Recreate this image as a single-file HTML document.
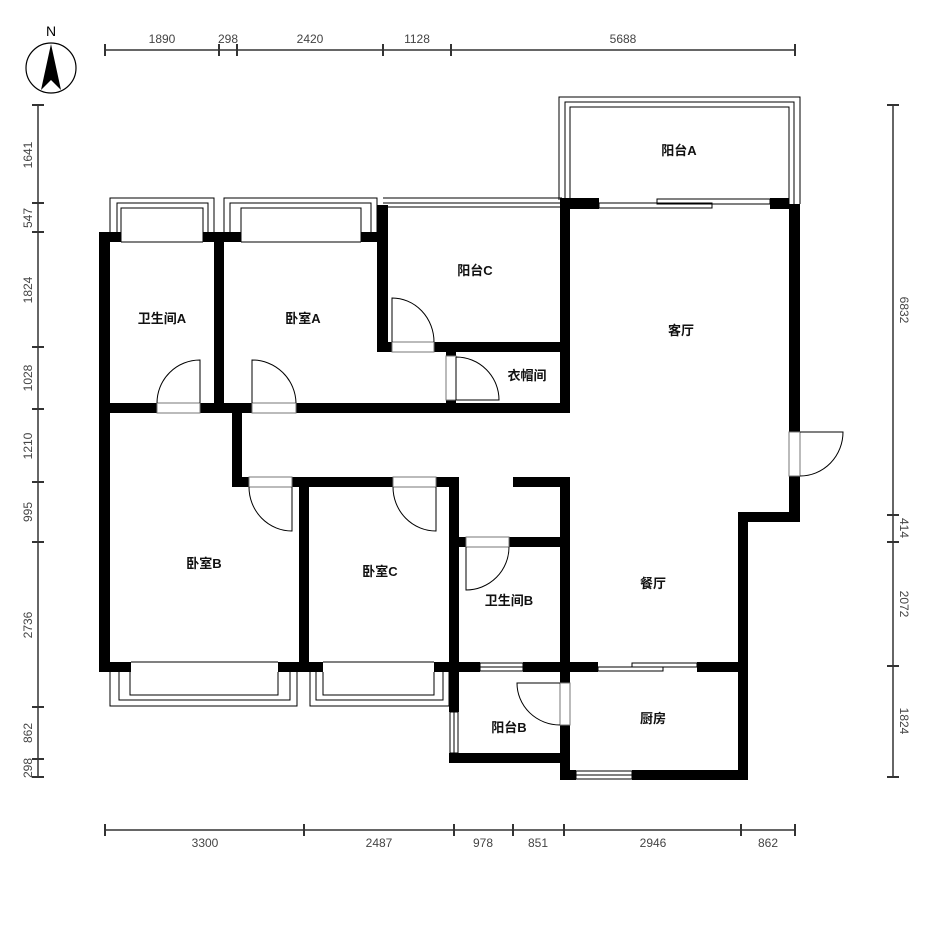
<!DOCTYPE html>
<html><head><meta charset="utf-8"><style>
html,body{margin:0;padding:0;background:#fff;}
svg{display:block;}
.d{font-family:"Liberation Sans",sans-serif;font-size:12px;fill:#444;}
.l{font-family:"Liberation Sans","Noto Sans CJK SC",sans-serif;font-size:13px;font-weight:bold;fill:#111;}
</style></head><body>
<svg width="943" height="932" viewBox="0 0 943 932" xmlns="http://www.w3.org/2000/svg">
<!-- compass -->
<circle cx="51" cy="68" r="25" fill="none" stroke="#000" stroke-width="1.2"/>
<polygon points="51,44 41,90 51,80 61,90" fill="#000"/>
<text x="51" y="36" text-anchor="middle" style="font-family:'Liberation Sans',sans-serif;font-size:14px">N</text>

<!-- dimension lines -->
<g stroke="#666" stroke-width="2" fill="none">
<line x1="105" y1="50" x2="795" y2="50"/>
<line x1="38" y1="105" x2="38" y2="777"/>
<line x1="893" y1="105" x2="893" y2="777"/>
<line x1="105" y1="830" x2="795" y2="830"/>
</g>
<g stroke="#333" stroke-width="2">
<line x1="105" y1="44" x2="105" y2="56"/><line x1="219" y1="44" x2="219" y2="56"/><line x1="237" y1="44" x2="237" y2="56"/><line x1="383" y1="44" x2="383" y2="56"/><line x1="451" y1="44" x2="451" y2="56"/><line x1="795" y1="44" x2="795" y2="56"/>
<line x1="32" y1="105" x2="44" y2="105"/><line x1="32" y1="203" x2="44" y2="203"/><line x1="32" y1="232" x2="44" y2="232"/><line x1="32" y1="347" x2="44" y2="347"/><line x1="32" y1="409" x2="44" y2="409"/><line x1="32" y1="482" x2="44" y2="482"/><line x1="32" y1="542" x2="44" y2="542"/><line x1="32" y1="707" x2="44" y2="707"/><line x1="32" y1="759" x2="44" y2="759"/><line x1="32" y1="777" x2="44" y2="777"/>
<line x1="887" y1="105" x2="899" y2="105"/><line x1="887" y1="515" x2="899" y2="515"/><line x1="887" y1="542" x2="899" y2="542"/><line x1="887" y1="666" x2="899" y2="666"/><line x1="887" y1="777" x2="899" y2="777"/>
<line x1="105" y1="824" x2="105" y2="836"/><line x1="304" y1="824" x2="304" y2="836"/><line x1="454" y1="824" x2="454" y2="836"/><line x1="513" y1="824" x2="513" y2="836"/><line x1="564" y1="824" x2="564" y2="836"/><line x1="741" y1="824" x2="741" y2="836"/><line x1="795" y1="824" x2="795" y2="836"/>
</g>
<g class="d" text-anchor="middle">
<text x="162" y="43">1890</text><text x="228" y="43">298</text><text x="310" y="43">2420</text><text x="417" y="43">1128</text><text x="623" y="43">5688</text>
<text x="205" y="847">3300</text><text x="379" y="847">2487</text><text x="483" y="847">978</text><text x="538" y="847">851</text><text x="653" y="847">2946</text><text x="768" y="847">862</text>
<text transform="translate(32,155) rotate(-90)">1641</text>
<text transform="translate(32,218) rotate(-90)">547</text>
<text transform="translate(32,290) rotate(-90)">1824</text>
<text transform="translate(32,378) rotate(-90)">1028</text>
<text transform="translate(32,446) rotate(-90)">1210</text>
<text transform="translate(32,512) rotate(-90)">995</text>
<text transform="translate(32,625) rotate(-90)">2736</text>
<text transform="translate(32,733) rotate(-90)">862</text>
<text transform="translate(32,768) rotate(-90)">298</text>
<text transform="translate(900,310) rotate(90)">6832</text>
<text transform="translate(900,528) rotate(90)">414</text>
<text transform="translate(900,604) rotate(90)">2072</text>
<text transform="translate(900,721) rotate(90)">1824</text>
</g>

<!-- bay windows / balconies thin lines -->
<g fill="none" stroke="#000" stroke-width="1">
<!-- 卫生间A bay -->
<polyline points="110,232 110,198 214,198 214,232"/>
<polyline points="117,232 117,203 208,203 208,232"/>
<polyline points="121,242 121,208 203,208 203,242"/>
<!-- 卧室A bay -->
<polyline points="224,232 224,198 377,198 377,232"/>
<polyline points="230,232 230,203 371,203 371,232"/>
<polyline points="241,242 241,208 361,208 361,242"/>
<!-- 阳台C top -->
<line x1="383" y1="198" x2="562" y2="198"/>
<line x1="383" y1="203" x2="562" y2="203"/>
<line x1="388" y1="207" x2="560" y2="207"/>
<!-- 阳台A -->
<polyline points="559,200 559,97 800,97 800,204"/>
<polyline points="565,200 565,102 794,102 794,204"/>
<polyline points="570,200 570,107 789,107 789,204"/>
<!-- 卧室B bay -->
<polyline points="110,672 110,706 297,706 297,672"/>
<polyline points="119,672 119,700 290,700 290,672"/>
<polyline points="130,672 130,695 278,695 278,672"/>
<line x1="131" y1="662" x2="278" y2="662"/>
<!-- 卧室C bay -->
<polyline points="310,672 310,706 449,706 449,672"/>
<polyline points="316,672 316,700 443,700 443,672"/>
<polyline points="323,672 323,695 434,695 434,672"/>
<line x1="323" y1="662" x2="434" y2="662"/>
<!-- window lines -->
<line x1="121" y1="242" x2="203" y2="242"/>
<line x1="241" y1="242" x2="361" y2="242"/>
</g>

<!-- walls -->
<g fill="#000">
<rect x="99" y="232" width="11" height="440"/>
<rect x="99" y="232" width="22" height="10"/>
<rect x="203" y="232" width="38" height="10"/>
<rect x="361" y="232" width="27" height="10"/>
<rect x="214" y="232" width="10" height="181"/>
<rect x="377" y="205" width="11" height="147"/>
<rect x="377" y="342" width="15" height="10"/>
<rect x="434" y="342" width="136" height="10"/>
<rect x="446" y="352" width="10" height="4"/>
<rect x="446" y="400" width="10" height="4"/>
<rect x="560" y="198" width="39" height="11"/>
<rect x="560" y="198" width="10" height="215"/>
<rect x="770" y="198" width="19" height="11"/>
<rect x="789" y="204" width="11" height="228"/>
<rect x="789" y="476" width="11" height="46"/>
<rect x="738" y="512" width="62" height="10"/>
<rect x="738" y="512" width="10" height="268"/>
<rect x="99" y="403" width="58" height="10"/>
<rect x="200" y="403" width="52" height="10"/>
<rect x="296" y="403" width="274" height="10"/>
<rect x="232" y="413" width="10" height="74"/>
<rect x="232" y="477" width="17" height="10"/>
<rect x="292" y="477" width="101" height="10"/>
<rect x="436" y="477" width="23" height="10"/>
<rect x="513" y="477" width="57" height="10"/>
<rect x="299" y="477" width="10" height="195"/>
<rect x="449" y="477" width="10" height="235"/>
<rect x="459" y="537" width="7" height="10"/>
<rect x="509" y="537" width="51" height="10"/>
<rect x="560" y="477" width="10" height="206"/>
<rect x="560" y="725" width="10" height="55"/>
<rect x="99" y="662" width="32" height="10"/>
<rect x="278" y="662" width="45" height="10"/>
<rect x="434" y="662" width="46" height="10"/>
<rect x="523" y="662" width="75" height="10"/>
<rect x="697" y="662" width="51" height="10"/>
<rect x="449" y="753" width="121" height="10"/>
<rect x="560" y="770" width="16" height="10"/>
<rect x="632" y="770" width="116" height="10"/>
</g>

<!-- windows & doors thin -->
<g fill="none" stroke="#000" stroke-width="1">
<!-- 客厅 top slider -->
<rect x="599" y="203" width="113" height="5"/>
<rect x="657" y="199" width="113" height="5"/>
<!-- 餐厅/厨房 slider -->
<rect x="598" y="667" width="65" height="4"/>
<rect x="632" y="663" width="65" height="4"/>
<!-- 卫生间B window -->
<rect x="480" y="663" width="43" height="8"/><line x1="480" y1="667" x2="523" y2="667"/>
<!-- 厨房 window -->
<rect x="576" y="771" width="56" height="8"/><line x1="576" y1="775" x2="632" y2="775"/>
<!-- 阳台B window -->
<rect x="450" y="712" width="8" height="41"/><line x1="454" y1="712" x2="454" y2="753"/>
<!-- door openings -->
<rect x="157" y="403" width="43" height="10" stroke="#777"/>
<rect x="252" y="403" width="44" height="10" stroke="#777"/>
<rect x="392" y="342" width="42" height="10" stroke="#777"/>
<rect x="446" y="356" width="10" height="44" stroke="#777"/>
<rect x="249" y="477" width="43" height="10" stroke="#777"/>
<rect x="393" y="477" width="43" height="10" stroke="#777"/>
<rect x="466" y="537" width="43" height="10" stroke="#777"/>
<rect x="560" y="683" width="10" height="42" stroke="#777"/>
<rect x="789" y="432" width="11" height="44" stroke="#777"/>
<!-- leaves + arcs -->
<path d="M200,403 V360 A43,43 0 0 0 157,403"/>
<path d="M252,403 V360 A44,44 0 0 1 296,403"/>
<path d="M392,342 V298 A42,44 0 0 1 434,342"/>
<path d="M456,357 V400 H499 A43,43 0 0 0 456,357"/>
<path d="M292,487 V531 A43,44 0 0 1 249,487"/>
<path d="M436,487 V531 A43,44 0 0 1 393,487"/>
<path d="M466,547 V590 A43,43 0 0 0 509,547"/>
<path d="M560,683 H517 A43,42 0 0 0 560,725"/>
<path d="M800,476 H800 M800,432 H843 A43,44 0 0 1 800,476"/>
</g>

<!-- labels -->
<g class="l" text-anchor="middle">
<text x="162" y="323">卫生间A</text>
<text x="303" y="323">卧室A</text>
<text x="475" y="275">阳台C</text>
<text x="527" y="380">衣帽间</text>
<text x="679" y="155">阳台A</text>
<text x="681" y="335">客厅</text>
<text x="204" y="568">卧室B</text>
<text x="380" y="576">卧室C</text>
<text x="509" y="605">卫生间B</text>
<text x="653" y="588">餐厅</text>
<text x="509" y="732">阳台B</text>
<text x="653" y="723">厨房</text>
</g>
</svg>
</body></html>
